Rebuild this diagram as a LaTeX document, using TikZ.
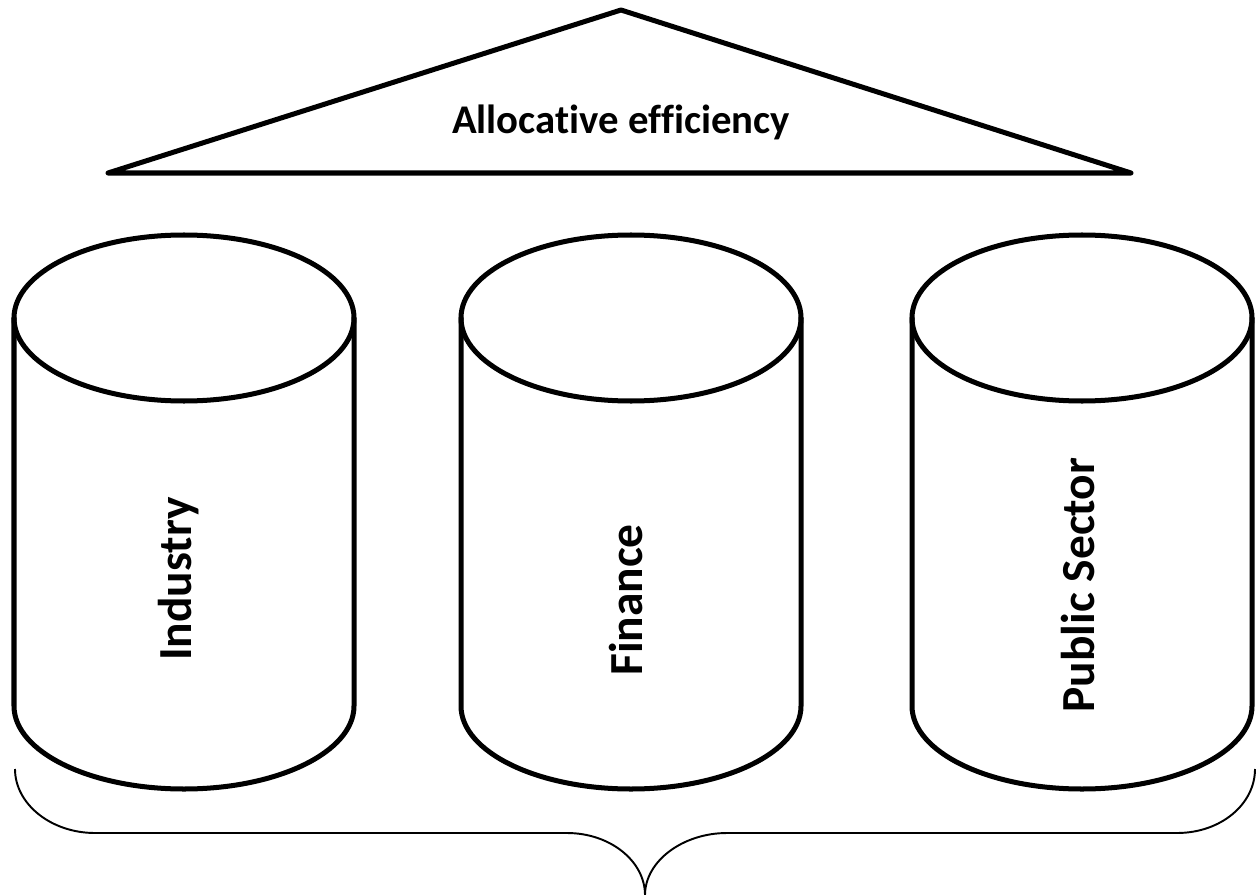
\documentclass[tikz,border=0pt]{standalone}
\usepackage{fontspec}
\setmainfont[Ligatures=NoCommon]{Carlito}
\begin{document}
\begin{tikzpicture}[x=0.02cm,y=-0.02cm,
  outline/.style={draw=black,line width=2.85pt,line join=round,line cap=round},
  bracestyle/.style={draw=black,line width=1.1pt},
  titletext/.style={font=\fontsize{23.2}{28}\selectfont\bfseries},
  pillartext/.style={font=\fontsize{27}{31}\selectfont\bfseries,rotate=90,anchor=base}]
\useasboundingbox (0,0) rectangle (1257,895);

% roof
\coordinate (apex) at (621,10);
\coordinate (roofL) at (108,173);
\coordinate (roofR) at (1131,173);
\draw[outline] (roofL) -- (apex) -- (roofR) -- cycle;
\node[titletext] (roof) at (621,122) {Allocative efficiency};

% pillars: left edge, right edge
\foreach \name/\xl/\xr in {one/14/354, two/461/801, three/912/1252}{
  \pgfmathsetmacro{\xc}{(\xl+\xr)/2}
  \pgfmathsetmacro{\rx}{(\xr-\xl)/2}
  \coordinate (\name-top) at (\xc,318);
  \coordinate (\name-bot) at (\xc,706);
  \draw[outline] (\xl,318) -- (\xl,706)
     arc[start angle=180,end angle=360,x radius=\rx,y radius=-83] -- (\xr,318);
  \draw[outline] (\name-top) ellipse[x radius=\rx,y radius=-83];
}

\node[pillartext] (industry) at (191,579) {Industry};
\node[pillartext] (finance) at (642,600) {Finance};
\node[pillartext] (public) at (1094,585) {Public Sector};

% brace under the pillars
\coordinate (braceL) at (15,769);
\coordinate (braceTip) at (645,895);
\coordinate (braceR) at (1255,769);
\draw[bracestyle] (braceL) .. controls (15,804) and (51,833) .. (95,833)
  -- (567,833) .. controls (610,833) and (645,861) .. (braceTip)
  .. controls (645,861) and (683,833) .. (727,833)
  -- (1177,833) .. controls (1221,833) and (1255,804) .. (braceR);
\end{tikzpicture}
\end{document}
